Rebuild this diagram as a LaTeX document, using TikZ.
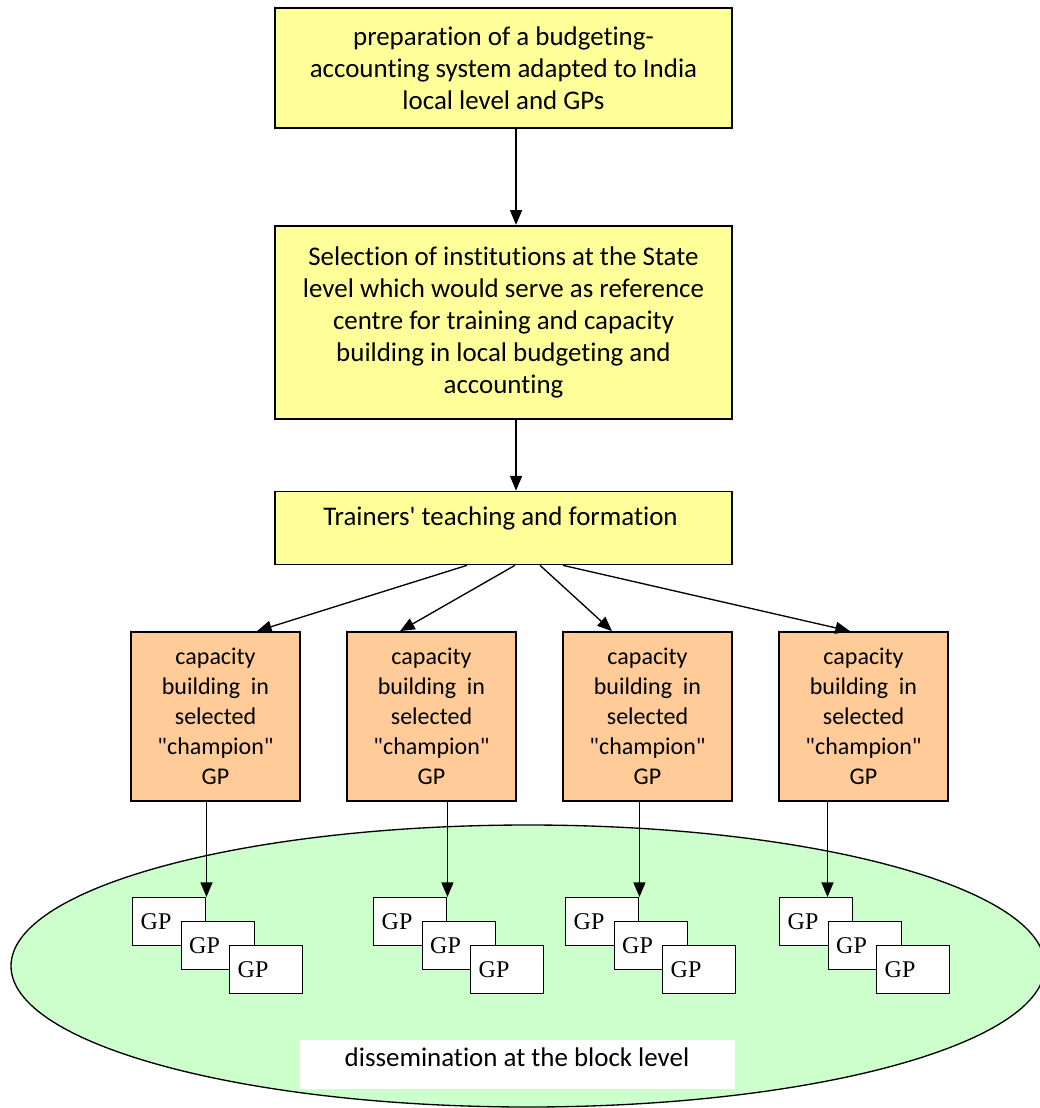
\documentclass[tikz,border=0pt]{standalone}
\usepackage{fontspec}
\setmainfont{Carlito}[Ligatures={NoCommon}]
\newfontfamily\gpfont{Liberation Serif}
\usepackage{xcolor}
\usetikzlibrary{shapes.geometric, arrows.meta, positioning}

\definecolor{boxyellow}{HTML}{FFFF99}
\definecolor{boxorange}{HTML}{FFCC99}
\definecolor{blockgreen}{HTML}{CCFFCC}

\begin{document}
\begin{tikzpicture}[
    x=0.75pt, y=-0.75pt,
    % Stil fuer die gelben Prozess-Boxen
    mainbox/.style={
      rectangle,
      draw=black,
      line width=1.3pt,
      fill=boxyellow,
      minimum width=342.75pt,
      align=center,
      font=\fontsize{20.2}{24}\selectfont
    },
    % Stil fuer die orangen GP-Boxen
    capbox/.style={
      rectangle,
      draw=black,
      line width=1.3pt,
      fill=boxorange,
      minimum width=126.75pt,
      minimum height=126.75pt,
      inner sep=0pt,
      align=center,
      font=\fontsize{18}{22.5}\selectfont
    },
    % Stil fuer die kleinen GP-Kaertchen
    gpbox/.style={
      rectangle,
      draw=black,
      line width=1.1pt,
      fill=white,
      minimum height=36pt,
      text width=42.75pt,
      inner xsep=6pt,
      inner ysep=0pt,
      align=left,
      font=\gpfont\fontsize{18}{20}\selectfont
    },
    % Stil fuer die Ellipse und ihre Beschriftung
    blockellipse/.style={
      ellipse,
      draw=black,
      line width=1pt,
      fill=blockgreen,
      minimum width=775.5pt,
      minimum height=211.5pt,
      inner sep=0pt
    },
    labelbox/.style={
      rectangle,
      fill=white,
      minimum width=326.25pt,
      minimum height=36.75pt,
      text height=14pt,
      text depth=10pt,
      font=\fontsize{20.2}{24}\selectfont
    },
    flowarrow/.style={
      -{Triangle[length=11pt, width=9pt]},
      line width=1pt
    }
  ]

  \useasboundingbox (0,0) rectangle (1040,1108);

  % --- HINTERGRUND ---
  \node[blockellipse] (block) at (528,966) {};
  \node[labelbox] (dissem) at (517,1064) {dissemination at the block level};

  % --- HAUPT-BOXEN ---
  \node[mainbox, minimum height=90pt] (prep) at (503.5,68) {
    preparation of a budgeting-\\
    accounting system adapted to India\\
    local level and GPs
  };
  \node[mainbox, minimum height=144.75pt, below=72pt of prep] (select) {
    Selection of institutions at the State\\
    level which would serve as reference\\
    centre for training and capacity\\
    building in local budgeting and\\
    accounting
  };
  \node[mainbox, minimum height=54.75pt, text height=14pt, text depth=18pt, below=53.25pt of select] (train) {
    Trainers\textquotesingle{} teaching and formation
  };

  % --- CHAMPION-GPs ---
  \node[capbox] (cap1) at (215.5,716.5) {capacity\\building~ in\\selected\\\textquotedbl champion\textquotedbl\\GP};
  \node[capbox] (cap2) at (431.5,716.5) {capacity\\building~ in\\selected\\\textquotedbl champion\textquotedbl\\GP};
  \node[capbox] (cap3) at (647.5,716.5) {capacity\\building~ in\\selected\\\textquotedbl champion\textquotedbl\\GP};
  \node[capbox] (cap4) at (863.5,716.5) {capacity\\building~ in\\selected\\\textquotedbl champion\textquotedbl\\GP};

  % --- GP-KAERTCHEN ---
  \node[gpbox, anchor=north west] (gp1a) at (132,897) {GP};
  \node[gpbox, anchor=north west] (gp1b) at ([shift={(48.5,24)}]gp1a.north west) {GP};
  \node[gpbox, anchor=north west] (gp1c) at ([shift={(48.5,24)}]gp1b.north west) {GP};

  \node[gpbox, anchor=north west] (gp2a) at (373,897) {GP};
  \node[gpbox, anchor=north west] (gp2b) at ([shift={(48.5,24)}]gp2a.north west) {GP};
  \node[gpbox, anchor=north west] (gp2c) at ([shift={(48.5,24)}]gp2b.north west) {GP};

  \node[gpbox, anchor=north west] (gp3a) at (565,897) {GP};
  \node[gpbox, anchor=north west] (gp3b) at ([shift={(48.5,24)}]gp3a.north west) {GP};
  \node[gpbox, anchor=north west] (gp3c) at ([shift={(48.5,24)}]gp3b.north west) {GP};

  \node[gpbox, anchor=north west] (gp4a) at (779,897) {GP};
  \node[gpbox, anchor=north west] (gp4b) at ([shift={(48.5,24)}]gp4a.north west) {GP};
  \node[gpbox, anchor=north west] (gp4c) at ([shift={(48.5,24)}]gp4b.north west) {GP};

  % --- PFEILE ---
  \draw[flowarrow] ([xshift=9.4pt]prep.south) -- ([xshift=9.4pt]select.north);
  \draw[flowarrow] ([xshift=9.4pt]select.south) -- ([xshift=9.4pt]train.north);

  \draw[flowarrow] ([xshift=-27.4pt]train.south) -- ([xshift=31.1pt]cap1.north);
  \draw[flowarrow] ([xshift=8.6pt]train.south) -- ([xshift=-23.6pt]cap2.north);
  \draw[flowarrow] ([xshift=27.4pt]train.south) -- ([xshift=-26.6pt]cap3.north);
  \draw[flowarrow] ([xshift=44.6pt]train.south) -- ([xshift=-10.1pt]cap4.north);

  % Pfeile zu den GP-Kaertchen
  \draw[flowarrow] (cap1.south -| gp1a.north east) -- (gp1a.north east);
  \draw[flowarrow] (cap2.south -| gp2a.north east) -- (gp2a.north east);
  \draw[flowarrow] (cap3.south -| gp3a.north east) -- (gp3a.north east);
  \draw[flowarrow] (cap4.south -| gp4b.north west) -- (gp4b.north west |- gp4a.north);

\end{tikzpicture}
\end{document}
